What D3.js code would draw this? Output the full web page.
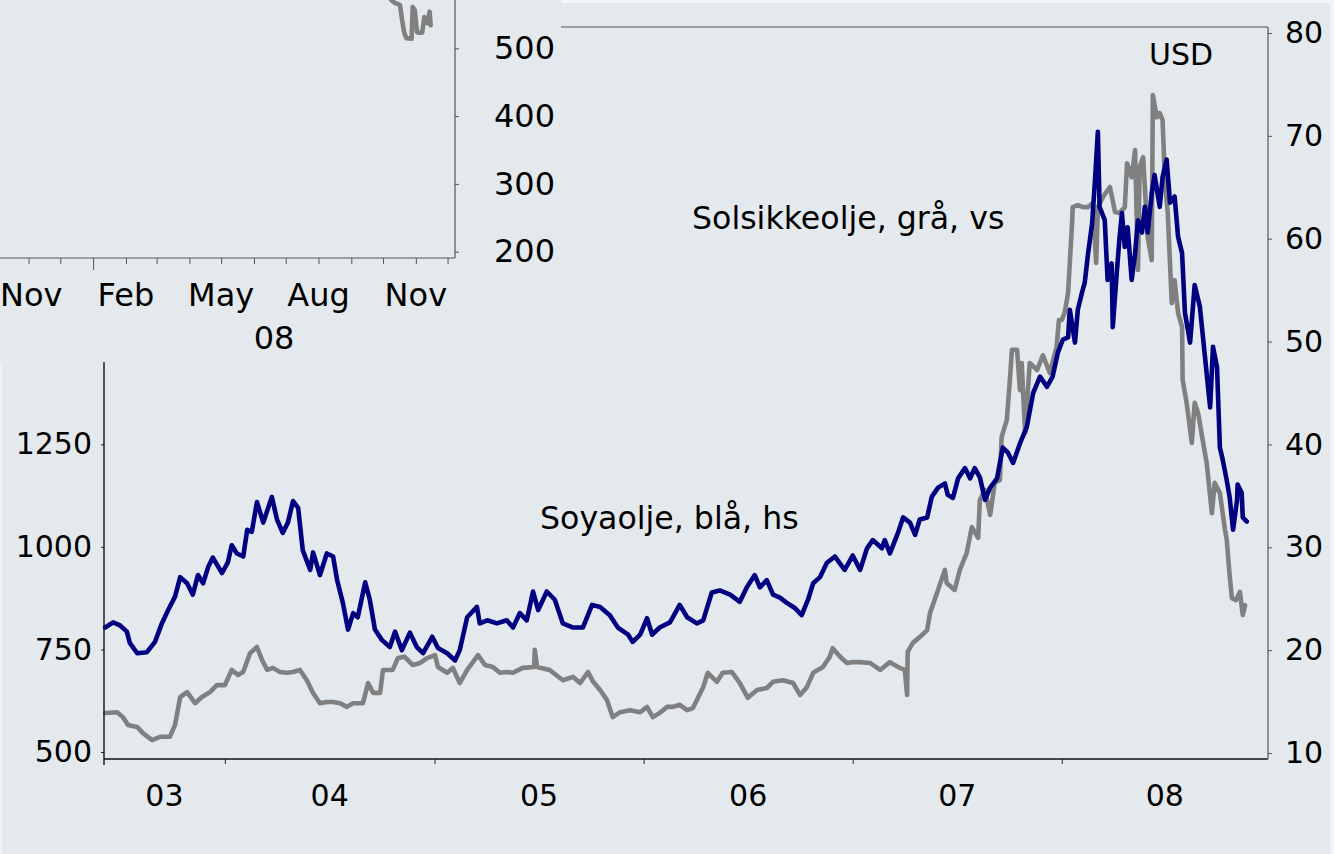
<!DOCTYPE html>
<html>
<head>
<meta charset="utf-8">
<script src="https://cdnjs.cloudflare.com/ajax/libs/d3/7.8.5/d3.min.js"></script>
<style>
  body { margin: 0; background: #e4e9ee; }
  svg text { font-family: "DejaVu Sans", Verdana, sans-serif; fill: #000; }
</style>
</head>
<body>
<div id="chart"></div>
<script>
/*series start date; positions in the arrays below are days counted from it*/
var startDate = new Date(2003, 5, 4);
var endDate = new Date(2008, 11, 26);

/*soy oil, blue, right axis (USD)*/
var soyDays = [
  2, 16, 28, 40, 45, 58, 75, 89, 101, 112,
  124, 133, 145, 155, 164, 173, 182, 190, 206, 216,
  223, 232, 243, 250, 258, 267, 278, 293, 302, 312,
  321, 330, 339, 347, 360, 365, 377, 389, 400, 407,
  417, 426, 435, 443, 456, 464, 473, 485, 499, 508,
  520, 534, 546, 557, 573, 583, 599, 613, 621, 634,
  651, 656, 669, 686, 703, 714, 726, 738, 749, 758,
  773, 787, 801, 819, 836, 852, 866, 883, 897, 915,
  923, 936, 948, 957, 970, 988, 1005, 1018, 1035, 1046,
  1061, 1075, 1093, 1110, 1122, 1136, 1145, 1157, 1168, 1180,
  1192, 1206, 1218, 1229, 1238, 1250, 1262, 1276, 1293, 1307,
  1320, 1332, 1342, 1358, 1363, 1372, 1386, 1395, 1407, 1416,
  1424, 1437, 1445, 1456, 1468, 1473, 1482, 1491, 1503, 1512,
  1520, 1529, 1538, 1547, 1559, 1569, 1578, 1587, 1599, 1611,
  1622, 1634, 1646, 1656, 1665, 1674, 1683, 1686, 1695, 1700,
  1707, 1712, 1718, 1725, 1730, 1735, 1738, 1747, 1752, 1759,
  1761, 1768, 1773, 1777, 1782, 1787, 1794, 1800, 1805, 1812,
  1817, 1822, 1829, 1834, 1843, 1848, 1855, 1861, 1869, 1875,
  1882, 1887, 1896, 1904, 1913, 1922, 1931, 1936, 1943, 1948,
  1953, 1960, 1965, 1971, 1978, 1979, 1986, 1988, 1995
];
var soyPrice = [
  22.2, 22.7, 22.4, 21.8, 20.7, 19.7, 19.8, 20.8, 22.6, 23.9,
  25.2, 27.1, 26.5, 25.4, 27.3, 26.5, 28.1, 29.0, 27.5, 28.5,
  30.2, 29.4, 29.1, 31.7, 31.5, 34.4, 32.4, 34.9, 32.7, 31.4,
  32.4, 34.5, 33.8, 29.7, 27.8, 29.5, 27.3, 29.4, 29.1, 26.8,
  24.6, 22.0, 23.6, 23.2, 26.6, 24.9, 22.0, 21.0, 20.3, 21.8,
  20.0, 21.7, 20.3, 19.7, 21.3, 20.2, 19.7, 19.0, 20.0, 23.2,
  24.2, 22.6, 22.9, 22.6, 22.9, 22.2, 23.6, 22.9, 25.7, 23.9,
  25.7, 24.9, 22.6, 22.2, 22.2, 24.4, 24.2, 23.4, 22.2, 21.5,
  20.8, 21.5, 23.1, 21.5, 22.2, 22.7, 24.4, 23.2, 22.6, 22.9,
  25.6, 25.8, 25.4, 24.7, 26.1, 27.3, 26.1, 26.8, 25.4, 25.1,
  24.6, 24.1, 23.4, 24.9, 26.5, 27.1, 28.5, 29.1, 27.8, 29.2,
  27.8, 29.9, 30.7, 29.9, 30.7, 29.4, 31.4, 32.9, 32.4, 31.2,
  32.7, 32.9, 34.9, 35.8, 36.2, 35.1, 34.8, 36.7, 37.7, 36.7,
  37.7, 36.8, 34.6, 35.8, 36.7, 39.7, 39.2, 38.2, 40.1, 41.7,
  45.0, 46.6, 45.6, 46.6, 48.9, 50.2, 50.4, 53.1, 49.9, 53.1,
  54.7, 55.7, 58.6, 61.5, 65.7, 70.4, 63.1, 61.8, 56.0, 57.6,
  51.4, 56.7, 60.2, 62.5, 59.2, 61.1, 56.0, 58.6, 61.8, 60.6,
  63.1, 60.6, 64.4, 66.2, 63.1, 66.0, 67.7, 63.5, 64.1, 60.2,
  58.6, 52.8, 49.9, 55.5, 53.4, 48.5, 43.6, 49.5, 47.5, 39.7,
  38.5, 36.5, 34.9, 31.7, 34.6, 36.1, 35.3, 32.9, 32.5
];

/*sunflower oil, grey, left axis*/
var sunDays = [
  2, 23, 33, 42, 58, 68, 84, 98, 115, 124,
  133, 145, 159, 171, 185, 197, 211, 223, 234, 243,
  255, 267, 276, 285, 295, 307, 319, 330, 342, 354,
  365, 377, 389, 400, 412, 424, 435, 452, 461, 470,
  482, 487, 504, 513, 525, 539, 552, 564, 578, 583,
  599, 609, 621, 634, 653, 665, 679, 691, 703, 714,
  731, 751, 752, 756, 778, 801, 819, 831, 845, 854,
  866, 878, 888, 901, 918, 936, 948, 958, 970, 983,
  993, 1005, 1018, 1028, 1035, 1046, 1054, 1070, 1080, 1096,
  1110, 1124, 1140, 1157, 1168, 1185, 1203, 1215, 1227, 1238,
  1255, 1267, 1272, 1285, 1297, 1307, 1320, 1337, 1355, 1372,
  1389, 1398, 1402, 1403, 1412, 1424, 1437, 1442, 1454, 1468,
  1471, 1485, 1494, 1506, 1515, 1526, 1529, 1538, 1547, 1555,
  1564, 1567, 1576, 1581, 1585, 1594, 1599, 1602, 1608, 1616,
  1629, 1639, 1651, 1663, 1667, 1672, 1677, 1683, 1690, 1691,
  1700, 1709, 1718, 1726, 1732, 1735, 1744, 1756, 1765, 1773,
  1782, 1786, 1794, 1800, 1805, 1808, 1814, 1822, 1829, 1831,
  1838, 1843, 1848, 1852, 1857, 1864, 1869, 1875, 1882, 1883,
  1890, 1899, 1904, 1910, 1918, 1925, 1934, 1939, 1948, 1957,
  1960, 1965, 1969, 1976, 1983, 1988, 1992
];
var sunPrice = [
  595, 597, 585, 566, 561, 546, 529, 537, 537, 566,
  634, 646, 619, 634, 646, 663, 663, 700, 688, 695,
  741, 756, 724, 700, 705, 695, 693, 695, 700, 675,
  644, 619, 622, 622, 619, 610, 619, 619, 668, 644,
  644, 700, 700, 729, 732, 712, 717, 729, 736, 707,
  693, 705, 668, 700, 736, 712, 707, 693, 695, 693,
  705, 707, 749, 707, 700, 675, 683, 668, 695, 671,
  651, 627, 585, 597, 602, 597, 610, 585, 595, 610,
  610, 615, 602, 607, 627, 658, 693, 671, 693, 695,
  668, 632, 651, 656, 671, 675, 668, 639, 658, 693,
  707, 732, 753, 732, 717, 719, 719, 717, 700, 719,
  705, 700, 639, 744, 766, 780, 797, 839, 887, 944,
  912, 895, 944, 985, 1048, 1022, 1114, 1139, 1078, 1156,
  1163, 1268, 1309, 1399, 1480, 1480, 1382, 1448, 1277, 1448,
  1431, 1467, 1424, 1487, 1553, 1553, 1570, 1619, 1789, 1828,
  1833, 1828, 1828, 1838, 1692, 1828, 1853, 1877, 1816, 1814,
  1828, 1935, 1901, 1967, 1675, 1926, 1950, 1755, 1699, 2101,
  2047, 2057, 2040, 1894, 1814, 1594, 1650, 1570, 1536, 1407,
  1351, 1253, 1351, 1326, 1260, 1204, 1082, 1156, 1131, 1041,
  1017, 931, 875, 870, 890, 834, 858
];

var leftTicks = [500, 750, 1000, 1250, 1500, 1750, 2000, 2250];
var rightTicks = [10, 20, 30, 40, 50, 60, 70, 80];
var yearLabels = ["03", "04", "05", "06", "07", "08"];

/*piece of a second chart laid over the top left corner*/
var insetDates = ["2008-10-05", "2008-10-09", "2008-10-12", "2008-10-17", "2008-10-19",
  "2008-10-21", "2008-10-23", "2008-10-28", "2008-10-29", "2008-10-31", "2008-11-02",
  "2008-11-04", "2008-11-07", "2008-11-09", "2008-11-12", "2008-11-14", "2008-11-15"];
var insetPrice = [580, 571, 567, 564, 542, 523, 515, 514, 561, 556, 524, 523, 523, 546, 537, 554, 534];
var insetTicks = [200, 300, 400, 500];
var insetMonthLabels = ["Nov", "Feb", "May", "Aug", "Nov"];
var insetMonthLabelDates = ["2007-11-01", "2008-02-01", "2008-05-01", "2008-08-01", "2008-11-01"];

var bg = "#e4e9ee";
var svgWidth = 1334, svgHeight = 854;

var svg = d3.select("#chart").append("svg")
  .attr("width", svgWidth)
  .attr("height", svgHeight);

svg.append("rect").attr("width", svgWidth).attr("height", svgHeight).attr("fill", bg);

/*scales of the main chart*/
var xScale = d3.scaleTime().domain([startDate, endDate]).range([104, 1268]);
var yLeft = d3.scaleLinear().domain([500, 2250]).range([752, 34]);
var yRight = d3.scaleLinear().domain([10, 80]).range([753, 33]);

var sunData = sunDays.map(function(d, i) { return {date: d3.timeDay.offset(startDate, d), value: sunPrice[i]}; });
var soyData = soyDays.map(function(d, i) { return {date: d3.timeDay.offset(startDate, d), value: soyPrice[i]}; });

/*grey line first, blue drawn on top*/
svg.append("path").datum(sunData)
  .attr("d", d3.line().x(d => xScale(d.date)).y(d => yLeft(d.value)))
  .attr("fill", "none").attr("stroke", "#808080").attr("stroke-width", 4.6)
  .attr("stroke-linejoin", "round").attr("stroke-linecap", "round");

svg.append("path").datum(soyData)
  .attr("d", d3.line().x(d => xScale(d.date)).y(d => yRight(d.value)))
  .attr("fill", "none").attr("stroke", "#000080").attr("stroke-width", 4.6)
  .attr("stroke-linejoin", "round").attr("stroke-linecap", "round");

/*axes*/
function styleAxis(g, color) {
  g.attr("font-size", 30).attr("font-family", null);
  g.select(".domain").remove();
  g.selectAll(".tick line").attr("stroke", color);
}

svg.append("g").attr("transform", "translate(104,0)")
  .call(d3.axisLeft(yLeft).tickValues(leftTicks).tickSize(3).tickPadding(9).tickFormat(d3.format("d")))
  .call(g => styleAxis(g, "#222"));

svg.append("g").attr("transform", "translate(1268,0)")
  .call(d3.axisRight(yRight).tickValues(rightTicks).tickSize(4).tickPadding(13))
  .call(g => styleAxis(g, "#555"));

var yearStarts = d3.timeYear.range(d3.timeYear.ceil(startDate), endDate);
svg.append("g").attr("transform", "translate(0,759)")
  .call(d3.axisBottom(xScale).tickValues(yearStarts).tickSize(5).tickFormat(""))
  .call(g => styleAxis(g, "#222"));

/*axis lines and frame*/
svg.append("line").attr("x1", 104).attr("x2", 104).attr("y1", 362).attr("y2", 765)
  .attr("stroke", "#111").attr("stroke-width", 1.4);
svg.append("line").attr("x1", 104).attr("x2", 1268).attr("y1", 759).attr("y2", 759)
  .attr("stroke", "#111").attr("stroke-width", 1.4);
svg.append("line").attr("x1", 1268).attr("x2", 1268).attr("y1", 27).attr("y2", 759)
  .attr("stroke", "#555").attr("stroke-width", 1.2);
svg.append("line").attr("x1", 0).attr("x2", 1268).attr("y1", 27).attr("y2", 27)
  .attr("stroke", "#555").attr("stroke-width", 1.2);

/*year labels, centred on the visible part of each year*/
svg.append("g").selectAll("text")
  .data(yearLabels)
  .enter().append("text")
  .attr("x", function(d, i) {
    var a = d3.max([startDate, new Date(2003 + i, 0, 1)]);
    var b = d3.min([endDate, new Date(2004 + i, 0, 1)]);
    return (xScale(a) + xScale(b)) / 2;
  })
  .attr("y", 806)
  .attr("text-anchor", "middle")
  .attr("font-size", 30)
  .text(d => d);

/*series labels*/
svg.append("text").attr("x", 1149).attr("y", 65).attr("font-size", 30).text("USD");
svg.append("text").attr("x", 692).attr("y", 229).attr("font-size", 31.6).text("Solsikkeolje, grå, vs");
svg.append("text").attr("x", 540).attr("y", 529).attr("font-size", 31.6).text("Soyaolje, blå, hs");

/*the overlaid piece of the other chart*/
var parseDate = d3.timeParse("%Y-%m-%d");
var inset = svg.append("g");
inset.append("rect").attr("x", 0).attr("y", 0).attr("width", 561).attr("height", 361).attr("fill", bg);

var insetX = d3.scaleTime().domain([new Date(2007, 9, 5), new Date(2008, 11, 8)]).range([0, 455]);
var insetY = d3.scaleLinear().domain([200, 500]).range([251.7, 48.3]);

svg.append("clipPath").attr("id", "insetClip")
  .append("rect").attr("x", 0).attr("y", 0).attr("width", 455).attr("height", 258);

var insetData = insetDates.map(function(d, i) { return {date: parseDate(d), value: insetPrice[i]}; });
inset.append("path").datum(insetData)
  .attr("clip-path", "url(#insetClip)")
  .attr("d", d3.line().x(d => insetX(d.date)).y(d => insetY(d.value)))
  .attr("fill", "none").attr("stroke", "#808080").attr("stroke-width", 4.6)
  .attr("stroke-linejoin", "round").attr("stroke-linecap", "round");

var months = d3.timeMonth.range(new Date(2007, 10, 1), new Date(2008, 11, 2));
inset.append("g").attr("transform", "translate(0,258)")
  .call(d3.axisBottom(insetX).tickValues(months).tickSize(6).tickFormat(""))
  .call(g => styleAxis(g, "#555"))
  .call(g => g.selectAll(".tick line").attr("y2", d => d.getMonth() === 0 ? 12 : 6));

inset.append("g").attr("transform", "translate(455,0)")
  .call(d3.axisRight(insetY).tickValues(insetTicks).tickSize(4).tickPadding(35))
  .call(g => styleAxis(g, "#555"))
  .call(g => g.attr("font-size", 32));

inset.append("line").attr("x1", 0).attr("x2", 455).attr("y1", 258).attr("y2", 258)
  .attr("stroke", "#555").attr("stroke-width", 1.2);
inset.append("line").attr("x1", 455).attr("x2", 455).attr("y1", 0).attr("y2", 258)
  .attr("stroke", "#555").attr("stroke-width", 1.2);

inset.append("g").selectAll("text")
  .data(insetMonthLabels)
  .enter().append("text")
  .attr("x", (d, i) => insetX(parseDate(insetMonthLabelDates[i])))
  .attr("y", 306)
  .attr("text-anchor", "middle")
  .attr("font-size", 32)
  .text(d => d)
  .each(function() {
    /*keep the first label inside the picture*/
    var box = this.getBBox();
    if (box.x < 0) d3.select(this).attr("x", +d3.select(this).attr("x") - box.x);
  });

inset.append("text")
  .attr("x", (insetX(new Date(2008, 0, 1)) + 455) / 2)
  .attr("y", 349)
  .attr("text-anchor", "middle")
  .attr("font-size", 32)
  .text("08");

/*lighter edges of the cut-out picture*/
svg.append("rect").attr("x", 561).attr("y", 0).attr("width", 773).attr("height", 3).attr("fill", "#f4f6f8");
svg.append("rect").attr("x", 0).attr("y", 362).attr("width", 2).attr("height", 492).attr("fill", "#f0f3f6");
svg.append("rect").attr("x", 1330).attr("y", 0).attr("width", 4).attr("height", svgHeight).attr("fill", "#f0f3f6");
</script>
</body>
</html>
